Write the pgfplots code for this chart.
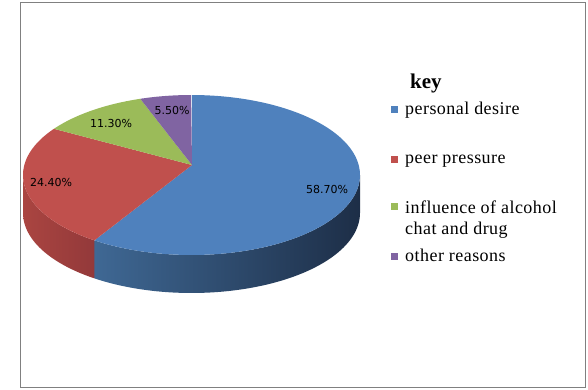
\documentclass[border=0pt]{standalone}
\usepackage{pgfplots}
\pgfplotsset{compat=1.18}
\usepackage{pgfplotstable}
\usepackage{fontspec}
\setmainfont{Liberation Serif}
\newfontfamily\legfont[LetterSpace=2.5]{Liberation Serif}
\newfontfamily\labfont{DejaVu Sans}
\definecolor{cblue}{HTML}{4F81BD}
\definecolor{cred}{HTML}{C0504D}
\definecolor{cgreen}{HTML}{9BBB59}
\definecolor{cpurple}{HTML}{8064A2}
\definecolor{bsideL}{HTML}{3F6894}
\definecolor{bsideR}{HTML}{1D2E47}
\definecolor{rsideL}{HTML}{AA4541}
\definecolor{rsideR}{HTML}{93393A}
\definecolor{frame}{HTML}{808080}

\pgfplotstableread{
value
58.7
24.4
11.3
5.5
}\piedata

% ellipse parameter of the rim point seen from the (perspective) centre at true angle #1
\newcommand\phiof[2]{%
 \pgfmathsetmacro\pP{cos(#1)*100/\rx}%
 \pgfmathsetmacro\pQ{-\sv*sin(#1)*100/\ry}%
 \pgfmathsetmacro\qA{(\pP)*(\pP)+(\pQ)*(\pQ)}%
 \pgfmathsetmacro\qB{(\uu)*(\pP)+(\ww)*(\pQ)}%
 \pgfmathsetmacro\qC{(\uu)*(\uu)+(\ww)*(\ww)-1}%
 \pgfmathsetmacro\lam{(-(\qB)+sqrt((\qB)*(\qB)-(\qA)*(\qC)))/(\qA)}%
 \pgfmathsetmacro\pX{\uu+(\pP)*(\lam)}%
 \pgfmathsetmacro\pY{\ww+(\pQ)*(\lam)}%
 \pgfmathsetmacro\praw{atan2(-(\pY),\pX)}%
 \pgfmathsetmacro#2{\praw+360*round((#1-(\praw))/360)}%
}

\begin{document}
\begin{tikzpicture}
\pgfplotstablegetelem{0}{value}\of\piedata \let\va\pgfplotsretval
\pgfplotstablegetelem{1}{value}\of\piedata \let\vb\pgfplotsretval
\pgfplotstablegetelem{2}{value}\of\piedata \let\vc\pgfplotsretval
\pgfplotstablegetelem{3}{value}\of\piedata \let\vd\pgfplotsretval
\def\cx{191.5}\def\cy{175}\def\rx{168.5}\def\ry{80}\def\dep{38}
\def\vx{192}\def\vy{165}\def\sv{0.47}
\pgfmathsetmacro\uu{(\vx-\cx)/\rx}
\pgfmathsetmacro\ww{(\vy-\cy)/\ry}
\pgfmathsetmacro\tA{90}
\pgfmathsetmacro\tB{\tA-3.6*\va}
\pgfmathsetmacro\tC{\tB-3.6*\vb}
\pgfmathsetmacro\tD{\tC-3.6*\vc}
\pgfmathsetmacro\tE{\tD-3.6*\vd}
\phiof{\tA}{\aA}
\phiof{\tB}{\aB}
\phiof{\tC}{\aC}
\phiof{\tD}{\aD}
\phiof{\tE}{\aE}
\begin{axis}[width=588pt,height=390pt,scale only axis,
  xmin=0,xmax=588,ymin=0,ymax=390,y dir=reverse,
  hide axis,clip=false]
\path (0,0) rectangle (588,390);
% sides
\shade[left color=bsideL,right color=bsideR]
  plot[domain=\aB:0,samples=60,variable=\t] ({\cx+\rx*cos(\t)},{\cy-\ry*sin(\t)})
  -- plot[domain=0:\aB,samples=60,variable=\t] ({\cx+\rx*cos(\t)},{\cy-\ry*sin(\t)+\dep}) -- cycle;
\shade[left color=rsideL,right color=rsideR]
  plot[domain=-180:\aB,samples=40,variable=\t] ({\cx+\rx*cos(\t)},{\cy-\ry*sin(\t)})
  -- plot[domain=\aB:-180,samples=40,variable=\t] ({\cx+\rx*cos(\t)},{\cy-\ry*sin(\t)+\dep}) -- cycle;
% top
\fill[cblue] (\vx,\vy) -- plot[domain=\aB:\aA,samples=90,variable=\t] ({\cx+\rx*cos(\t)},{\cy-\ry*sin(\t)}) -- cycle;
\fill[cred] (\vx,\vy) -- plot[domain=\aC:\aB,samples=40,variable=\t] ({\cx+\rx*cos(\t)},{\cy-\ry*sin(\t)}) -- cycle;
\fill[cgreen] (\vx,\vy) -- plot[domain=\aD:\aC,samples=30,variable=\t] ({\cx+\rx*cos(\t)},{\cy-\ry*sin(\t)}) -- cycle;
\fill[cpurple] (\vx,\vy) -- plot[domain=\aE:\aD,samples=20,variable=\t] ({\cx+\rx*cos(\t)},{\cy-\ry*sin(\t)}) -- cycle;
% data labels
\begin{scope}[every node/.style={font=\labfont\fontsize{11}{13}\selectfont,inner sep=0pt}]
\node at (327,189) {58.70\%};
\node at (51,182) {24.40\%};
\node at (111,123) {11.30\%};
\node at (172,110) {5.50\%};
\end{scope}
% legend
\node[anchor=base west,inner sep=0pt,font=\fontsize{21}{24}\selectfont\bfseries] at (410,89) {key};
\begin{scope}[every node/.style={anchor=base west,inner sep=0pt,font=\legfont\fontsize{18}{21}\selectfont}]
\fill[cblue] (391,106) rectangle (398,113);
\node at (405,115) {personal desire};
\fill[cred] (391,156) rectangle (398,163);
\node at (405,164) {peer pressure};
\fill[cgreen] (391,203) rectangle (398,210);
\node at (405,213) {influence of alcohol};
\node at (405,234) {chat and drug};
\fill[cpurple] (391,253) rectangle (398,260);
\node at (405,261) {other reasons};
\end{scope}
\draw[frame,line width=1pt] (20.5,2.5) rectangle (585.5,387.5);
\end{axis}
\end{tikzpicture}
\end{document}
